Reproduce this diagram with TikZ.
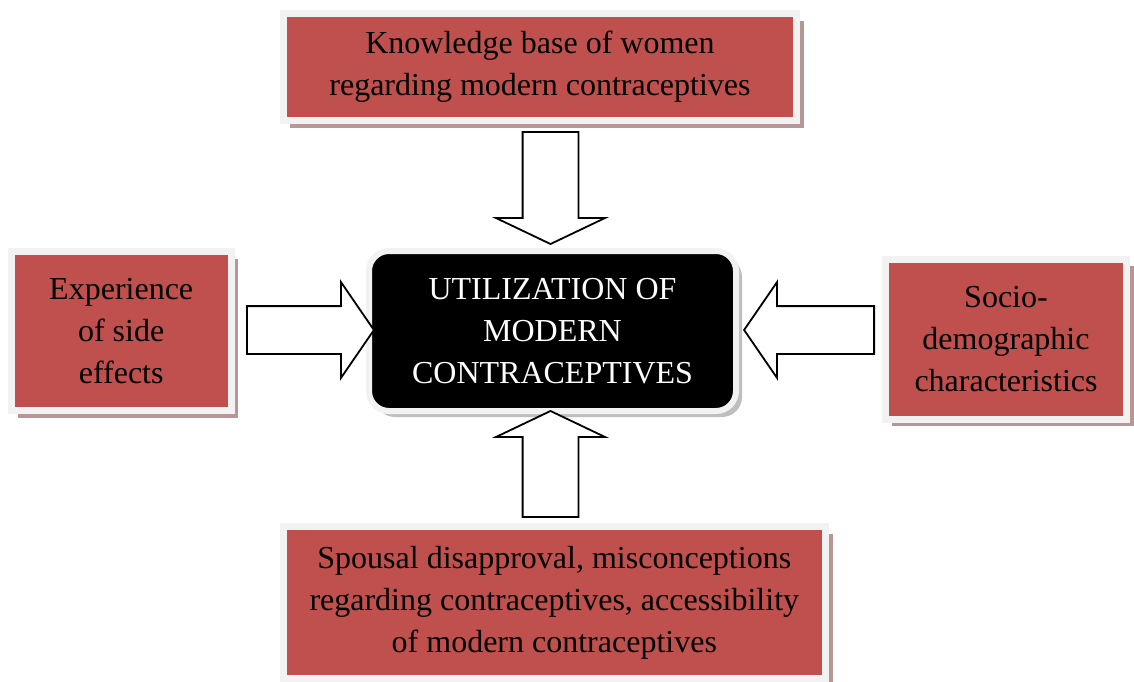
\documentclass[tikz,border=0pt]{standalone}
\usepackage{fontspec}
\setmainfont{Liberation Serif}
\usepackage{tikz}
\usetikzlibrary{positioning,calc,shapes.arrows,shadows}

\definecolor{boxred}{RGB}{192,80,77}
\definecolor{framegray}{RGB}{242,242,242}
\definecolor{shadowred}{RGB}{185,150,150}
\definecolor{shadowgray}{RGB}{190,190,190}

\tikzset{
  factor/.style={rectangle, draw=framegray, line width=3.5pt, fill=boxred, inner sep=0pt, outer sep=0pt,
    align=center, drop shadow={shadow xshift=3.5pt, shadow yshift=-3.5pt, fill=shadowred, opacity=1}},
  core/.style={rectangle, rounded corners=10pt, draw=framegray, line width=3pt, fill=black, text=white,
    inner sep=0pt, outer sep=0pt, align=center,
    drop shadow={shadow xshift=3pt, shadow yshift=-3pt, fill=shadowgray, opacity=1}},
  hollow/.style={single arrow, draw=black, line width=0.9pt, fill=white, inner xsep=0pt, anchor=tip}
}

\begin{document}
\begin{tikzpicture}[x=0.5pt, y=-0.5pt, font=\fontsize{16}{21}\selectfont]
  \useasboundingbox (0,0) rectangle (1134,681);

  % centre
  \node (U) [core, minimum width=183.5pt, minimum height=80pt] at (552.5,331)
  {UTILIZATION OF\\ MODERN\\ CONTRACEPTIVES};

  % factors round it
  \node (K) [factor, minimum width=256.75pt, minimum height=53.5pt, above=65.25pt of U, xshift=-6.25pt]
  {Knowledge base of women\\ regarding modern contraceptives};
  \node (E) [factor, minimum width=110pt, minimum height=79.5pt, left=68.9pt of U]
  {Experience\\ of side\\ effects};
  \node (S) [factor, minimum width=120.7pt, minimum height=80pt, right=74.65pt of U, yshift=-4pt]
  {Socio-\\ demographic\\ characteristics};
  \node (D) [factor, minimum width=271.25pt, minimum height=76pt, below=57.75pt of U, xshift=0.9pt]
  {Spousal disapproval, misconceptions\\ regarding contraceptives, accessibility\\ of modern contraceptives};

  % block arrows, tip at the centre box
  \node (A1) [hollow, xshift=-1pt, yshift=3pt, rotate=-90, inner ysep=13.5pt, single arrow head extend=13.25pt,
    single arrow tip angle=129, minimum height=56pt] at (U.north) {};
  \node (A2) [hollow, xshift=-1pt, yshift=0.5pt, rotate=90, inner ysep=13.5pt, single arrow head extend=13.25pt,
    single arrow tip angle=129, minimum height=53pt] at (U.south) {};
  \node (A3) [hollow, xshift=3pt, yshift=0.5pt, inner ysep=11.5pt, single arrow head extend=12pt,
    single arrow tip angle=111, minimum height=63.5pt] at (U.west) {};
  \node (A4) [hollow, xshift=3.5pt, yshift=0.5pt, rotate=180, inner ysep=11.5pt, single arrow head extend=12pt,
    single arrow tip angle=111, minimum height=65pt] at (U.east) {};
\end{tikzpicture}
\end{document}
